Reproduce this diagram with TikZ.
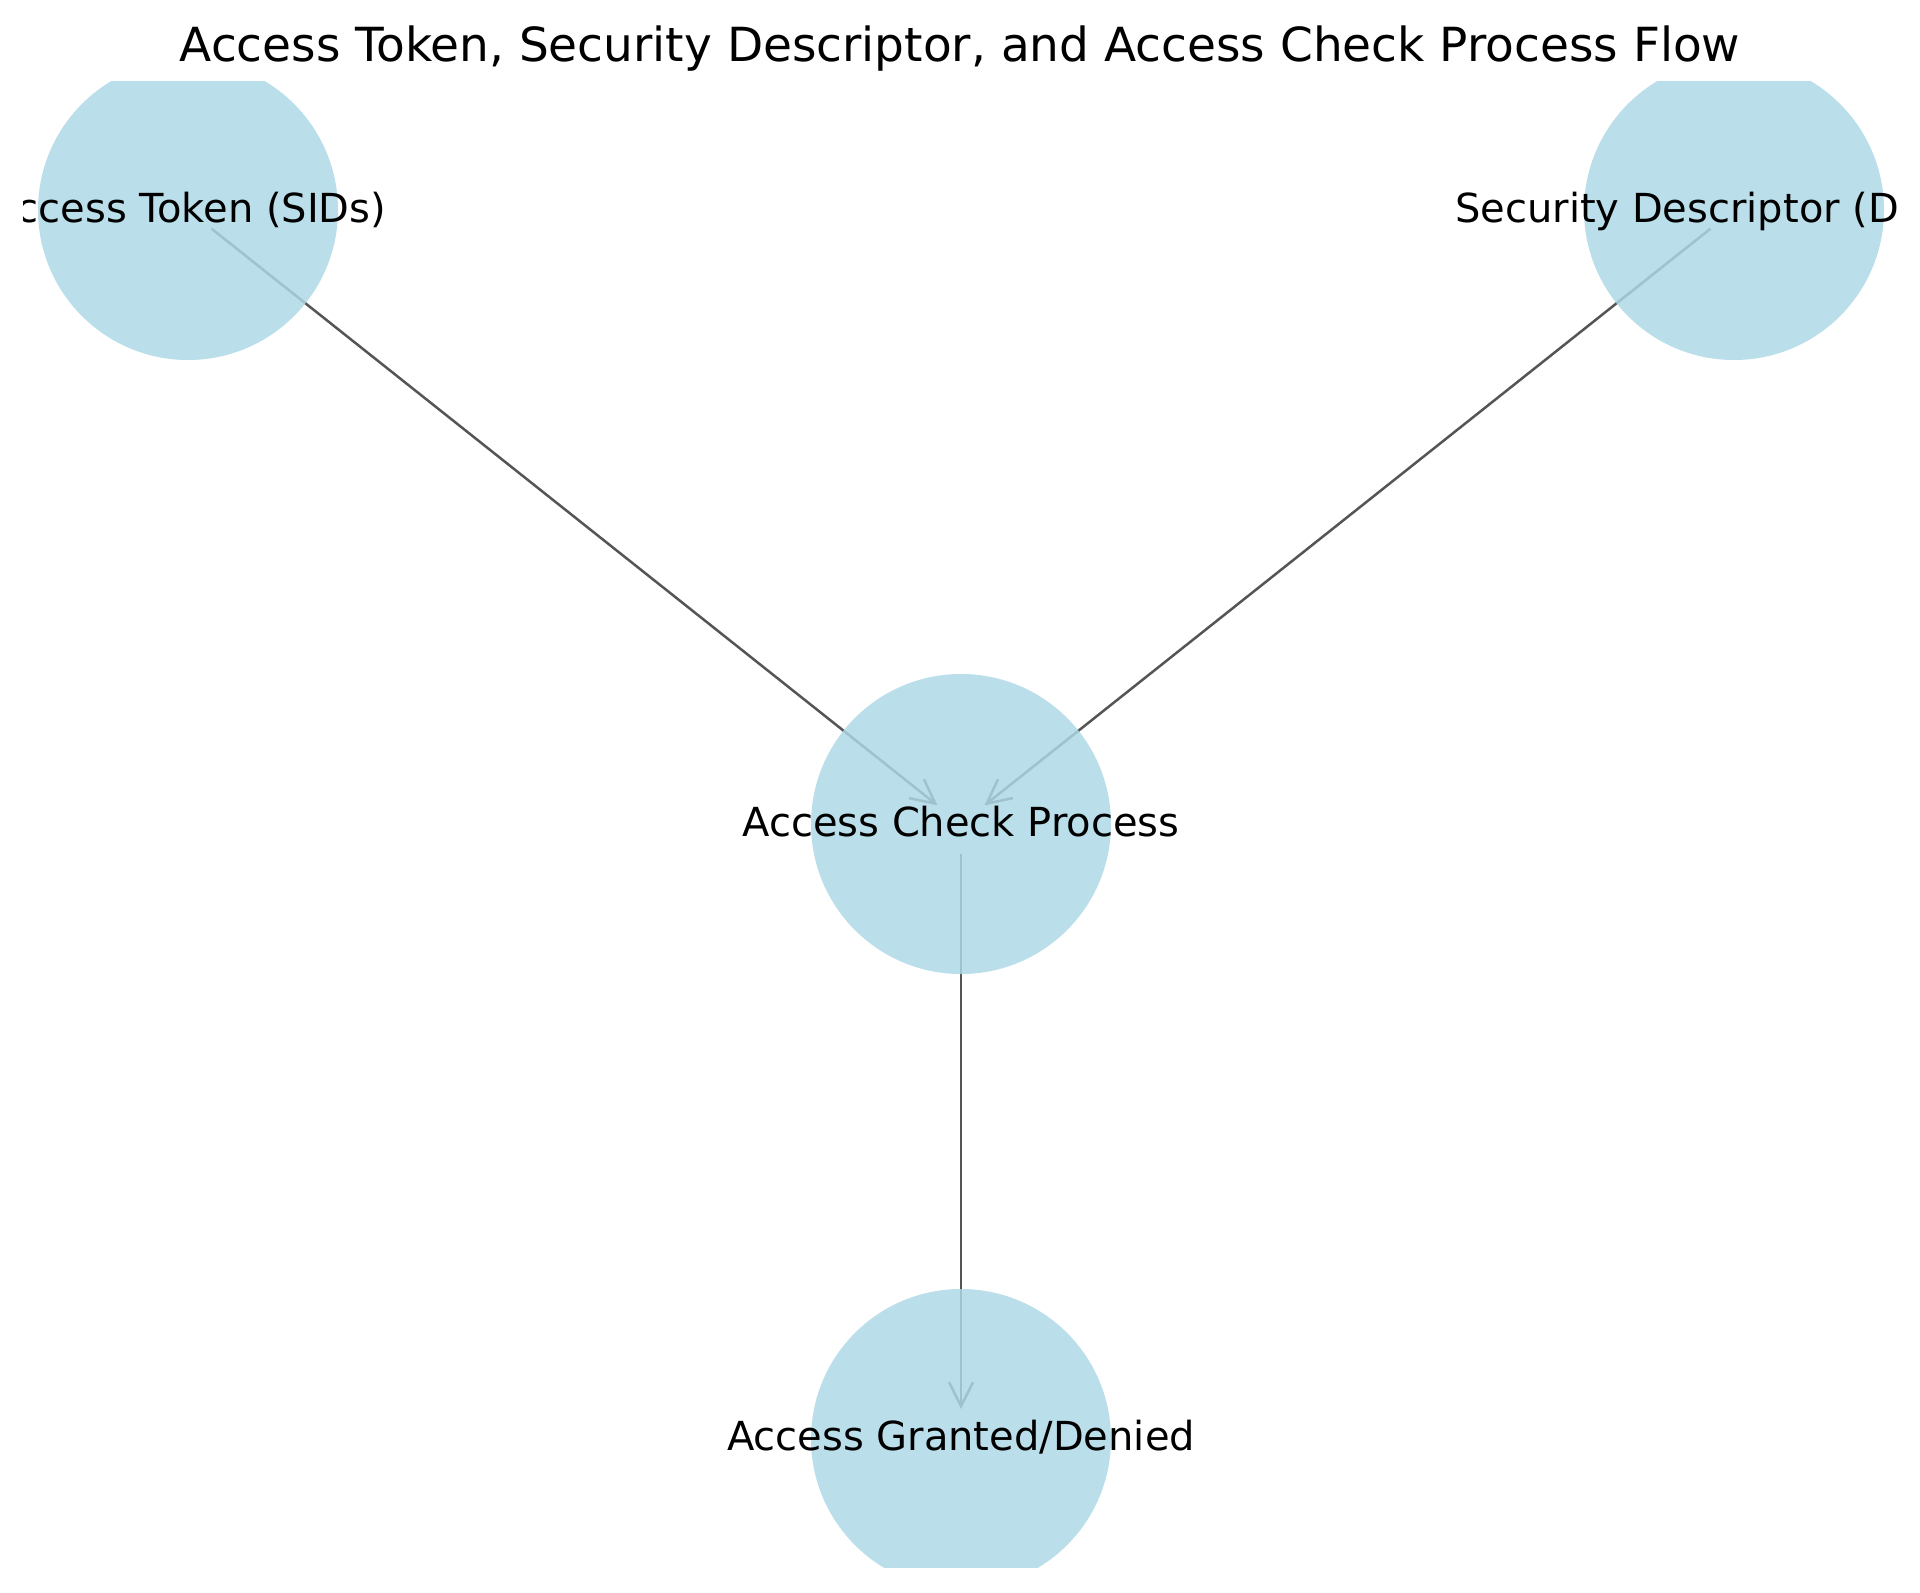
\documentclass[tikz,border=0pt]{standalone}
\usepackage{fontspec}
\setmainfont{DejaVu Sans}
\usetikzlibrary{arrows.meta}
\pgfdeclarelayer{bg}
\pgfdeclarelayer{edges}
\pgfsetlayers{bg,edges,main}
\definecolor{nodeblue}{HTML}{ADD8E6}
\definecolor{edgegray}{HTML}{555555}
\begin{document}
\begin{tikzpicture}[x=1pt,y=-1pt,
  vnode/.style={circle, fill=nodeblue, fill opacity=0.84, minimum size=300pt, inner sep=0pt, draw=none},
  vlabel/.style={anchor=base, font=\fontsize{40}{48}\selectfont, text=black, inner sep=0pt},
  flow/.style={draw=edgegray, line width=2.5pt, -{Straight Barb[length=24pt,width=24pt,line width=2.5pt]}, shorten <=30pt, shorten >=30pt}]
\useasboundingbox (0,0) rectangle (1920,1593);
\begin{pgfonlayer}{bg}
\fill[white] (0,0) rectangle (1920,1593);
\end{pgfonlayer}
\node[anchor=base, font=\fontsize{47}{56}\selectfont, inner sep=0pt] (title) at (960,61) {Access Token, Security Descriptor, and Access Check Process Flow};
\begin{scope}
\clip (23,81) rectangle (1897,1567);
\node[vnode] (tok) at (188,210) {};
\node[vnode] (sd) at (1734,210) {};
\node[vnode] (chk) at (961,824) {};
\node[vnode] (res) at (961,1439) {};
\begin{pgfonlayer}{edges}
\draw[flow] (tok.center) -- (chk.center);
\draw[flow] (sd.center) -- (chk.center);
\draw[flow] (chk.center) -- (res.center);
\end{pgfonlayer}
\node[vlabel] (toklbl) at (188,222) {Access Token (SIDs)};
\node[vlabel, anchor=base west] (sdlbl) at (1455,222) {Security Descriptor (D};
\node[vlabel] (chklbl) at (961,836) {Access Check Process};
\node[vlabel] (reslbl) at (961,1450) {Access Granted/Denied};
\end{scope}
\end{tikzpicture}
\end{document}
